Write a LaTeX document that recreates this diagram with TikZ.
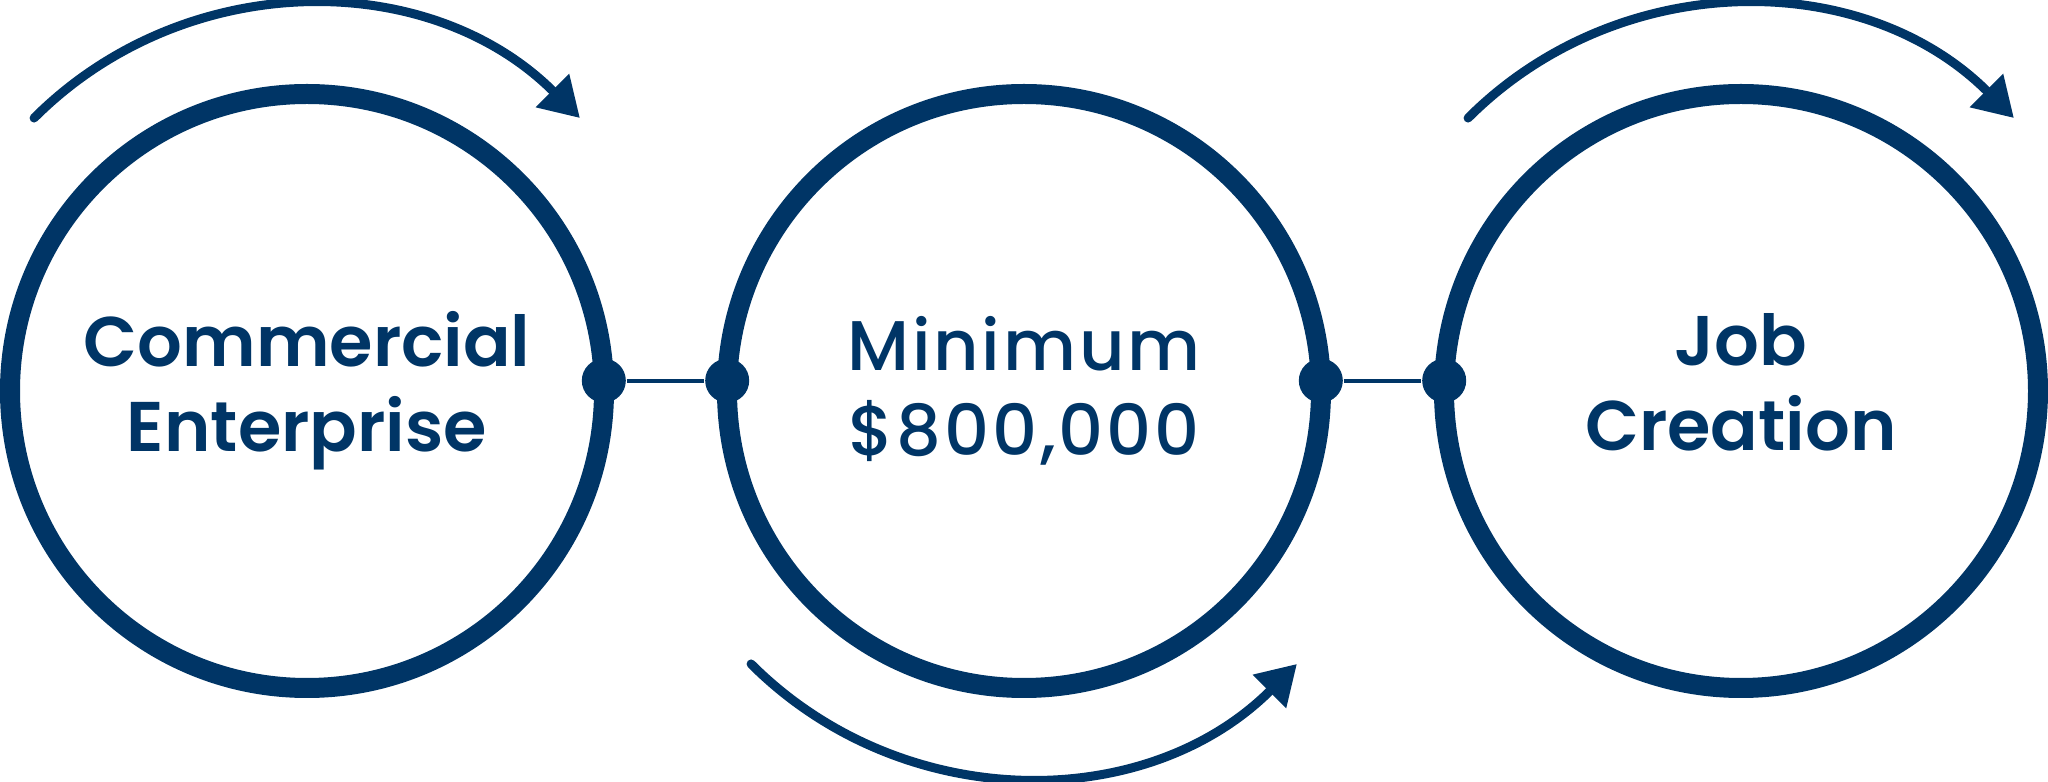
\documentclass[tikz,border=0pt]{standalone}
\usepackage{fontspec}
\setmainfont{Poppins}[BoldFont={* SemiBold}]
\newfontfamily\amountfont{Poppins Medium}[LetterSpace=4]
\usetikzlibrary{arrows.meta}
\definecolor{navy}{RGB}{0,53,102}

\begin{document}
\begin{tikzpicture}[
  ring/.style={circle, draw=navy, line width=0.2cm, minimum size=5.94cm,
    inner sep=0pt, outer sep=0pt, text=navy, align=center,
    font=\fontsize{20}{24.2}\selectfont\bfseries},
  dot/.style={circle, fill=navy, minimum size=0.44cm, inner sep=0pt},
  link/.style={draw=navy, line width=0.04cm},
  flow/.style={draw=navy, line width=0.09cm, line cap=round,
    -{Triangle[length=0.39cm, width=0.45cm]}}
]
\useasboundingbox (0, 0) rectangle (20.48, 7.82);

\node[ring] (c1) at (3.07, 3.91) {Commercial\\Enterprise};
\node[ring, font=\fontsize{20}{24.2}\amountfont] (c2) at (10.24, 3.91) {Minimum\\\$800,000};
\node[ring] (c3) at (17.41, 3.91) {Job\\Creation\vphantom{p}};

\node[dot] (d1) at (c1.2) {};
\node[dot] (d2) at (c2.178) {};
\node[dot] (d3) at (c2.2) {};
\node[dot] (d4) at (c3.178) {};
\draw[link] (d1) -- (d2);
\draw[link] (d3) -- (d4);

\coordinate (a1) at ([shift={(135:3.86)}]c1.center);
\coordinate (a2) at ([shift={(225:3.86)}]c2.center);
\coordinate (a3) at ([shift={(135:3.86)}]c3.center);
\draw[flow] (a1) arc[start angle=135, end angle=45, radius=3.86];
\draw[flow] (a2) arc[start angle=225, end angle=315, radius=3.86];
\draw[flow] (a3) arc[start angle=135, end angle=45, radius=3.86];

\end{tikzpicture}
\end{document}
